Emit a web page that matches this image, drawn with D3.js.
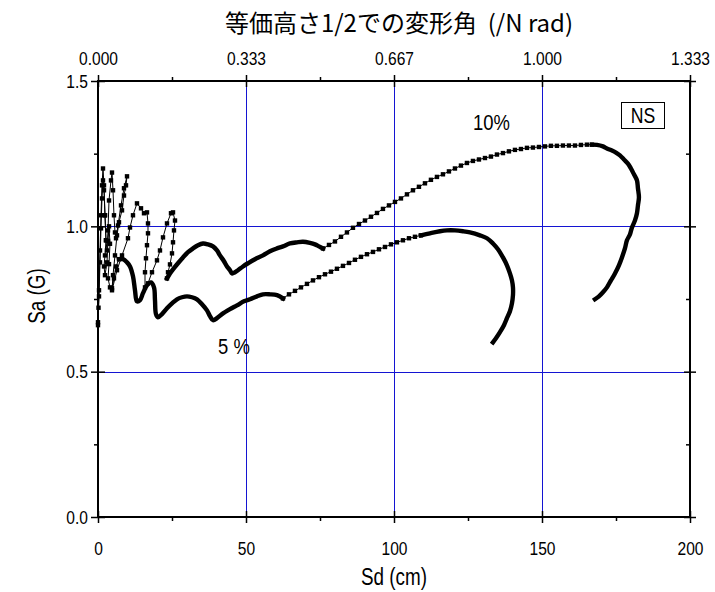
<!DOCTYPE html>
<html>
<head>
<meta charset="utf-8">
<script src="https://cdn.jsdelivr.net/npm/d3@7"></script>
<style>
  html, body { margin: 0; padding: 0; background: #fff; }
  svg { display: block; }
  text { font-family: "Liberation Sans", Arial, sans-serif; fill: #000; }
  .cjk { font-family: "Noto Sans CJK JP", "Liberation Sans", sans-serif; }
</style>
</head>
<body>
<svg id="chart" width="715" height="592"></svg>
<script>
// Sa–Sd spectra, [Sd (cm), Sa (G)]. Each curve is split into the
// short-period zigzag, dense runs and sparse runs of the period grid.
const tenZig = [
  [0, 0.660], [0.34, 0.780], [0.68, 0.917], [1.01, 1.038], [1.35, 1.141], [1.69, 1.199],
  [2.03, 1.141], [2.36, 1.038], [2.70, 0.952], [3.04, 0.917], [3.38, 0.986], [3.72, 1.089],
  [4.39, 1.158], [4.73, 1.185], [5.07, 1.124], [5.40, 1.038], [5.74, 0.979], [6.08, 0.959],
  [6.76, 1.003], [7.77, 1.072], [8.78, 1.131], [9.80, 1.172], [9.46, 1.141], [8.78, 1.106],
  [8.11, 1.055], [7.09, 1.014], [6.42, 0.969], [5.74, 0.900], [5.07, 0.832], [4.73, 0.780],
  [6.42, 0.849], [8.11, 0.900], [10.13, 0.959], [10.81, 0.996], [11.82, 1.038], [13.17, 1.079],
  [14.53, 1.062], [15.54, 1.045], [16.55, 1.048], [16.89, 1.010], [16.89, 0.976], [16.55, 0.935],
  [16.21, 0.890], [15.88, 0.842], [15.88, 0.790], [16.89, 0.804], [18.24, 0.842], [19.93, 0.883],
  [20.94, 0.917], [21.96, 0.962], [23.31, 1.010], [24.66, 1.045], [25.34, 1.048], [26.01, 1.020],
  [25.67, 0.986], [25.34, 0.945], [25.00, 0.907], [24.32, 0.869], [23.65, 0.842], [23.31, 0.821]
];
const tenDenseA = [
  [23.31, 0.821], [24.32, 0.838], [25.34, 0.852], [27.02, 0.873], [28.71, 0.893], [30.40, 0.911],
  [32.09, 0.924], [33.78, 0.935], [35.47, 0.941], [37.16, 0.938], [38.85, 0.931], [40.20, 0.917],
  [41.21, 0.900], [42.56, 0.880], [43.58, 0.862], [44.59, 0.849], [45.27, 0.838], [46.28, 0.842],
  [47.29, 0.849], [48.98, 0.862], [50.67, 0.873], [53.03, 0.887], [55.74, 0.900], [58.10, 0.914],
  [60.47, 0.924], [62.49, 0.931], [64.86, 0.941], [67.22, 0.945], [69.25, 0.947], [71.61, 0.943],
  [73.30, 0.938], [74.65, 0.931], [76.01, 0.924]
];
const tenSparse = [
  [76.01, 0.924], [78.03, 0.936], [80.06, 0.948], [82.09, 0.964], [84.11, 0.979], [86.14, 0.995],
  [88.17, 1.008], [90.19, 1.020], [92.22, 1.033], [94.25, 1.046], [96.27, 1.060], [98.30, 1.072],
  [100.33, 1.084], [102.35, 1.096], [104.38, 1.110], [106.41, 1.124], [108.43, 1.136], [110.46, 1.148],
  [112.48, 1.160], [114.51, 1.170], [116.54, 1.179], [118.56, 1.189], [120.59, 1.199], [122.62, 1.209],
  [124.64, 1.218], [126.67, 1.225], [128.70, 1.230], [130.73, 1.235], [132.75, 1.240], [134.78, 1.247],
  [136.81, 1.252], [138.83, 1.258], [140.86, 1.263], [142.89, 1.266], [144.92, 1.270], [146.94, 1.271],
  [148.97, 1.273], [151.00, 1.275], [153.02, 1.277], [155.05, 1.277], [157.08, 1.278], [159.10, 1.278],
  [161.13, 1.278], [163.16, 1.280], [165.18, 1.281], [166.87, 1.281]
];
const tenDenseB = [
  [166.87, 1.281], [168.56, 1.280], [170.59, 1.275], [171.94, 1.268], [173.63, 1.261], [174.98, 1.254],
  [176.33, 1.244], [177.68, 1.230], [179.03, 1.216], [180.05, 1.199], [181.06, 1.179], [182.08, 1.158],
  [182.41, 1.131], [182.75, 1.100], [182.41, 1.072], [182.08, 1.045], [181.40, 1.020], [180.39, 0.996],
  [179.71, 0.972], [178.70, 0.952], [178.02, 0.924], [177.01, 0.893], [175.99, 0.866], [174.65, 0.838],
  [173.29, 0.814], [171.94, 0.790], [170.59, 0.773], [169.24, 0.759], [167.89, 0.749]
];

const fiveZig = [
  [0, 0.670], [0.17, 0.720], [0.34, 0.759], [0.68, 0.876], [1.01, 0.993], [1.35, 1.096],
  [1.69, 1.158], [2.03, 1.124], [2.36, 1.038], [2.70, 0.952], [2.36, 0.900], [2.03, 0.862],
  [2.36, 0.832], [3.04, 0.876], [3.38, 0.950], [3.72, 1.000], [4.05, 0.940], [3.72, 0.870],
  [3.38, 0.821], [4.05, 0.790], [4.73, 0.787], [5.40, 0.821], [6.08, 0.862], [7.09, 0.887]
];
const fiveDenseA = [
  [7.09, 0.887], [8.45, 0.887], [9.80, 0.876], [10.81, 0.862], [11.82, 0.828], [12.50, 0.780],
  [13.17, 0.742], [14.19, 0.746], [15.20, 0.770], [16.55, 0.797], [17.90, 0.807], [18.92, 0.790],
  [19.25, 0.746], [19.59, 0.698], [20.27, 0.687], [21.62, 0.698], [23.31, 0.718], [25.00, 0.735],
  [26.69, 0.749], [28.38, 0.756], [30.06, 0.759], [31.75, 0.756], [33.44, 0.749], [35.13, 0.732],
  [36.82, 0.711], [37.83, 0.691], [38.85, 0.677], [40.20, 0.684], [41.89, 0.698], [44.59, 0.715],
  [46.95, 0.728], [49.32, 0.742], [51.35, 0.749], [53.71, 0.759], [55.74, 0.766], [58.10, 0.766],
  [60.47, 0.763], [62.49, 0.752]
];
const fiveSparse = [
  [62.49, 0.752], [64.52, 0.766], [66.55, 0.778], [68.57, 0.790], [70.60, 0.802], [72.63, 0.814],
  [74.65, 0.825], [76.68, 0.835], [78.71, 0.844], [80.73, 0.854], [82.76, 0.864], [84.79, 0.874],
  [86.81, 0.885], [88.84, 0.895], [90.87, 0.904], [92.90, 0.912], [94.92, 0.921], [96.95, 0.929],
  [98.98, 0.938], [101.00, 0.945], [103.03, 0.952], [105.06, 0.959], [107.08, 0.964], [109.11, 0.969]
];
const fiveDenseB = [
  [109.11, 0.969], [112.15, 0.976], [115.53, 0.983], [117.89, 0.986], [120.60, 0.986], [123.30, 0.983],
  [125.66, 0.979], [129.04, 0.969], [131.41, 0.959], [133.43, 0.941], [135.12, 0.921], [136.81, 0.893],
  [138.16, 0.866], [139.17, 0.838], [139.85, 0.814], [140.19, 0.790], [140.19, 0.763], [139.85, 0.735],
  [139.17, 0.708], [138.16, 0.684], [137.15, 0.660], [135.80, 0.636], [134.45, 0.615], [133.43, 0.601]
];

const sdTicks = [0, 50, 100, 150, 200];
const sdMinor = [25, 75, 125, 175];
const angleLabels = ["0.000", "0.333", "0.667", "1.000", "1.333"];
const saTicks = [0, 0.5, 1.0, 1.5];
const saMinor = [0.25, 0.75, 1.25];
const gridSd = [50, 100, 150];
const gridSa = [0.5, 1.0];

const svg = d3.select("#chart");
const L = 98, R = 690, T = 81, B = 517;
const NARROW = 0.82;   // condensed Latin lettering
const x = d3.scaleLinear().domain([0, 200]).range([L, R]);
const y = d3.scaleLinear().domain([0, 1.5]).range([B, T]);

// grid
const grid = svg.append("g").attr("stroke", "#1414d2").attr("stroke-width", 1);
grid.selectAll("line.v").data(gridSd).join("line")
  .attr("x1", d => x(d) + 0.5).attr("x2", d => x(d) + 0.5).attr("y1", T).attr("y2", B);
grid.selectAll("line.h").data(gridSa).join("line")
  .attr("x1", L).attr("x2", R).attr("y1", d => Math.round(y(d)) + 0.5).attr("y2", d => Math.round(y(d)) + 0.5);

// curves
const line = d3.line().x(d => x(d[0])).y(d => y(d[1]));
const smooth = d3.line().x(d => x(d[0])).y(d => y(d[1])).curve(d3.curveCatmullRom);
const curves = svg.append("g");

function sparse(data) {
  curves.append("path").datum(data).attr("d", line)
    .attr("fill", "none").attr("stroke", "#000").attr("stroke-width", 1);
  curves.append("g").selectAll("rect").data(data).join("rect")
    .attr("x", d => x(d[0]) - 2.2).attr("y", d => y(d[1]) - 2.2)
    .attr("width", 4.4).attr("height", 4.4).attr("fill", "#000");
}
function dense(data) {
  curves.append("path").datum(data).attr("d", smooth)
    .attr("fill", "none").attr("stroke", "#000").attr("stroke-width", 4.4)
    .attr("stroke-linejoin", "round").attr("stroke-linecap", "square");
}
[tenZig, tenSparse, fiveZig, fiveSparse].forEach(sparse);
[tenDenseA, tenDenseB, fiveDenseA, fiveDenseB].forEach(dense);

// frame
svg.append("rect").attr("x", L).attr("y", T).attr("width", R - L).attr("height", B - T)
  .attr("fill", "none").attr("stroke", "#000").attr("stroke-width", 2);

// axes
const axB = svg.append("g").attr("transform", `translate(0,${B})`)
  .call(d3.axisBottom(x).tickValues(sdTicks).tickSize(6).tickFormat(d3.format("d")));
const axT = svg.append("g").attr("transform", `translate(0,${T})`)
  .call(d3.axisTop(x).tickValues(sdTicks).tickSize(6).tickFormat((d, i) => angleLabels[i]));
const axL = svg.append("g").attr("transform", `translate(${L},0)`)
  .call(d3.axisLeft(y).tickValues(saTicks).tickSize(7).tickFormat(d3.format(".1f")));
const axR = svg.append("g").attr("transform", `translate(${R},0)`)
  .call(d3.axisRight(y).tickValues(saTicks).tickSize(6).tickFormat(""));
svg.append("g").attr("transform", `translate(0,${B})`)
  .call(d3.axisBottom(x).tickValues(sdMinor).tickSize(4).tickFormat(""));
svg.append("g").attr("transform", `translate(0,${T})`)
  .call(d3.axisTop(x).tickValues(sdMinor).tickSize(4).tickFormat(""));
svg.append("g").attr("transform", `translate(${L},0)`)
  .call(d3.axisLeft(y).tickValues(saMinor).tickSize(4).tickFormat(""));
svg.append("g").attr("transform", `translate(${R},0)`)
  .call(d3.axisLeft(y).tickValues(saMinor).tickSize(4).tickFormat(""));

svg.selectAll(".domain").remove();
svg.selectAll(".tick line").attr("stroke", "#000").attr("stroke-width", 1.5);
// major ticks cross the frame
axB.selectAll(".tick line").attr("y1", -6);
axT.selectAll(".tick line").attr("y1", 6);
axL.selectAll(".tick line").attr("x1", 7);
axR.selectAll(".tick line").attr("x1", -6);

svg.selectAll(".tick text").attr("font-size", 19)
  .style("font-family", '"Liberation Sans", Arial, sans-serif')
  .attr("transform", `scale(${NARROW},1)`);
axB.selectAll(".tick text").attr("dy", "0.71em").attr("y", 25);
axT.selectAll(".tick text").attr("y", -16);
axL.selectAll(".tick text").attr("x", -10 / NARROW);

// narrow text placed at (px, py)
function label(px, py, str, size, anchor, rot) {
  return svg.append("text")
    .attr("transform", `translate(${px},${py})${rot ? ` rotate(${rot})` : ""} scale(${NARROW},1)`)
    .attr("text-anchor", anchor || "start").attr("font-size", size).text(str);
}

// titles
svg.append("text").attr("class", "cjk").attr("x", 399).attr("y", 32)
  .attr("text-anchor", "middle").attr("font-size", 24)
  .text("等価高さ1/2での変形角\u00a0\u00a0(/N rad)");
label(394, 585, "Sd (cm)", 23, "middle");
label(45, 296, "Sa (G)", 23, "middle", -90);

// annotations
label(473, 130, "10%", 22.5);
label(218, 354, "5 %", 22.5);
svg.append("rect").attr("x", 621.5).attr("y", 102.5).attr("width", 43).attr("height", 26)
  .attr("fill", "#fff").attr("stroke", "#000").attr("stroke-width", 1);
label(643, 123, "NS", 21.5, "middle");
</script>
</body>
</html>
